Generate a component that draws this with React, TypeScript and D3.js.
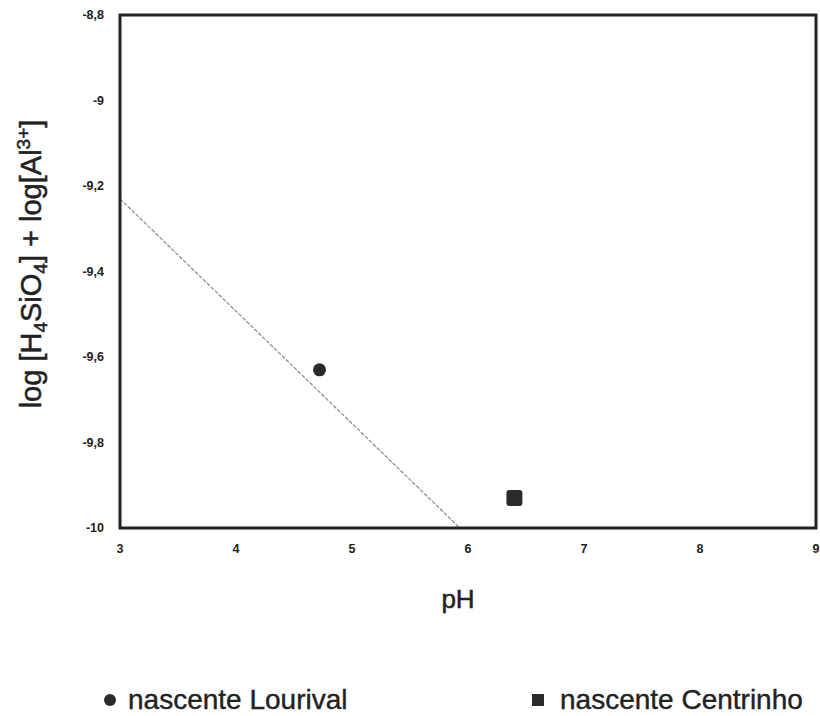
import React, { useEffect, useRef } from 'react';
import * as d3 from 'd3';

// pH ticks and log ticks
const xTicks = [3, 4, 5, 6, 7, 8, 9];
const yTicks = [-10, -9.8, -9.6, -9.4, -9.2, -9, -8.8];

// equilibrium line (kaolinite / gibbsite boundary)
const lineX = [3, 5.93];
const lineY = [-9.23, -10];

const lourival = [{ ph: 4.72, v: -9.63 }];
const centrinho = [{ ph: 6.4, v: -9.93 }];

const seriesNames = ['nascente Lourival', 'nascente Centrinho'];

const App = () => {
  const ref = useRef<SVGSVGElement>(null);

  useEffect(() => {
    const svg = d3.select(ref.current);
    svg.selectAll('*').remove();

    const width = 820;
    const height = 716;
    const margin = { top: 15, right: 4, bottom: 188, left: 120 };

    const x = d3.scaleLinear().domain([3, 9]).range([margin.left, width - margin.right]);
    const y = d3.scaleLinear().domain([-10, -8.8]).range([height - margin.bottom, margin.top]);

    const font = 'Liberation Sans, Arial, sans-serif';
    const ink = '#222';
    const fmt = (d: number) => String(Math.round(d * 10) / 10).replace('.', ',');

    svg.append('rect').attr('width', width).attr('height', height).attr('fill', '#fff');

    // Line
    const line = d3.line<number>()
      .x(d => x(d))
      .y((d, i) => y(lineY[i]));
    svg.append('path')
      .datum(lineX)
      .attr('fill', 'none')
      .attr('stroke', '#8a8a8a')
      .attr('stroke-width', 1.2)
      .attr('stroke-dasharray', '4,1.5')
      .attr('d', line);

    // Frame
    svg.append('rect')
      .attr('x', x(3))
      .attr('y', y(-8.8))
      .attr('width', x(9) - x(3))
      .attr('height', y(-10) - y(-8.8))
      .attr('fill', 'none')
      .attr('stroke', ink)
      .attr('stroke-width', 3);

    // Tick labels
    svg.append('g')
      .selectAll('text')
      .data(yTicks)
      .enter()
      .append('text')
      .attr('x', x(3) - 16)
      .attr('y', d => y(d) + 4)
      .attr('text-anchor', 'end')
      .attr('font-family', font)
      .attr('font-weight', 'bold')
      .attr('font-size', '12.5px')
      .attr('fill', ink)
      .text(d => fmt(d));

    svg.append('g')
      .selectAll('text')
      .data(xTicks)
      .enter()
      .append('text')
      .attr('x', d => x(d))
      .attr('y', y(-10) + 25)
      .attr('text-anchor', 'middle')
      .attr('font-family', font)
      .attr('font-weight', 'bold')
      .attr('font-size', '12.5px')
      .attr('fill', ink)
      .text(d => d);

    // Axis labels
    svg.append('text')
      .attr('x', 458)
      .attr('y', 608)
      .attr('text-anchor', 'middle')
      .attr('font-family', font)
      .attr('font-size', '26px')
      .attr('fill', ink)
      .attr('stroke', ink)
      .attr('stroke-width', 0.5)
      .text('pH');

    const yl = svg.append('text')
      .attr('transform', `translate(41, 264) rotate(-90)`)
      .attr('text-anchor', 'middle')
      .attr('font-family', font)
      .attr('font-size', '29px')
      .attr('fill', ink)
      .attr('stroke', ink)
      .attr('stroke-width', 0.5);
    yl.append('tspan').text('log [H');
    yl.append('tspan').attr('font-size', '19px').attr('dy', 6).text('4');
    yl.append('tspan').attr('dy', -6).text('SiO');
    yl.append('tspan').attr('font-size', '19px').attr('dy', 6).text('4');
    yl.append('tspan').attr('dy', -6).text('] + log[Al');
    yl.append('tspan').attr('font-size', '19px').attr('dy', -11).text('3+');
    yl.append('tspan').attr('dy', 11).text(']');

    // Points
    svg.append('g')
      .selectAll('circle')
      .data(lourival)
      .enter()
      .append('circle')
      .attr('cx', d => x(d.ph))
      .attr('cy', d => y(d.v))
      .attr('r', 6.5)
      .attr('fill', '#2a2a2a');

    svg.append('g')
      .selectAll('rect')
      .data(centrinho)
      .enter()
      .append('rect')
      .attr('x', d => x(d.ph) - 8)
      .attr('y', d => y(d.v) - 8)
      .attr('width', 16)
      .attr('height', 16)
      .attr('rx', 3)
      .attr('fill', '#2a2a2a');

    // Legend
    const leg = svg.append('g');
    leg.append('circle').attr('cx', 110).attr('cy', 700).attr('r', 6).attr('fill', '#2a2a2a');
    leg.append('text')
      .attr('x', 128).attr('y', 709)
      .attr('font-family', font).attr('font-size', '28px').attr('fill', ink)
      .attr('stroke', ink).attr('stroke-width', 0.4)
      .text(seriesNames[0]);
    leg.append('rect').attr('x', 532).attr('y', 694).attr('width', 12).attr('height', 12).attr('fill', '#2a2a2a');
    leg.append('text')
      .attr('x', 560).attr('y', 709)
      .attr('font-family', font).attr('font-size', '28px').attr('fill', ink)
      .attr('stroke', ink).attr('stroke-width', 0.4)
      .text(seriesNames[1]);
  }, []);

  return (
    <svg
      ref={ref}
      width={820}
      height={716}
      style={{ position: 'absolute', top: 0, left: 0, display: 'block' }}
    ></svg>
  );
};

export default App;
